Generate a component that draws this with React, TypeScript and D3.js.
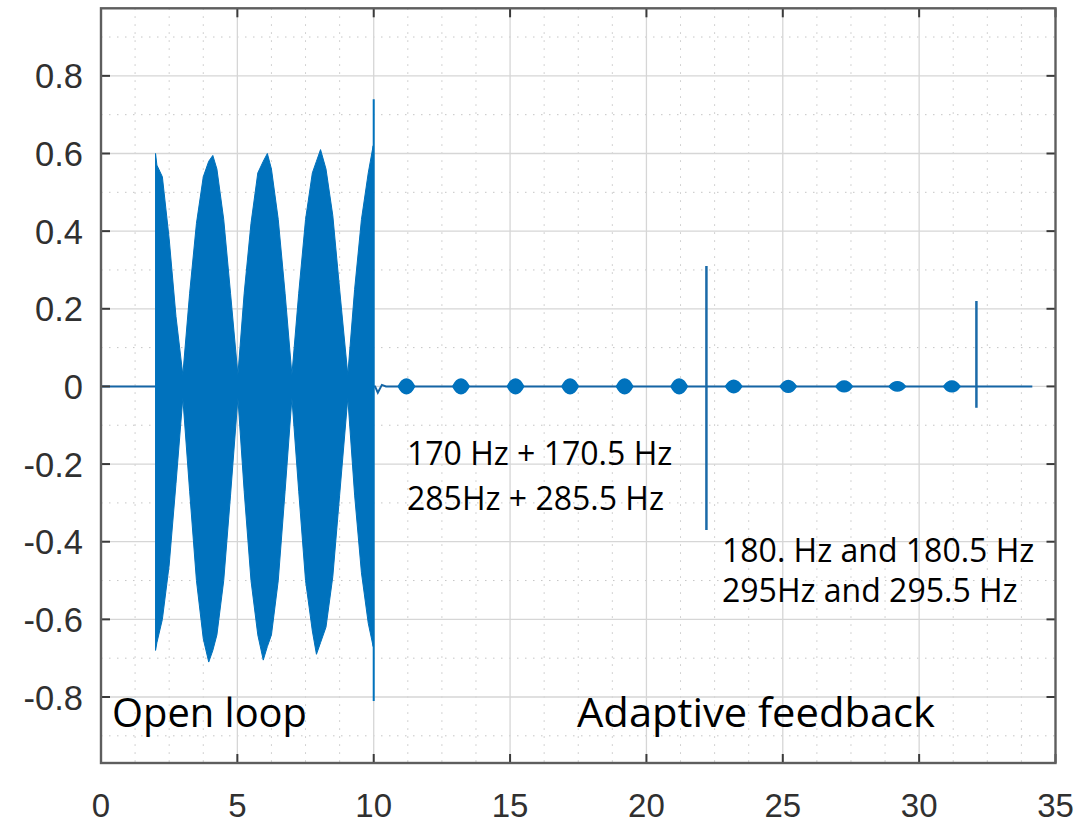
import React from "react";
import * as d3 from "d3";

// ---------- data ----------
const xTicks = [0, 5, 10, 15, 20, 25, 30, 35];
const yTicks = [-0.8, -0.6, -0.4, -0.2, 0, 0.2, 0.4, 0.6, 0.8];
const xTickLabels = ["0", "5", "10", "15", "20", "25", "30", "35"];
const yTickLabels = ["-0.8", "-0.6", "-0.4", "-0.2", "0", "0.2", "0.4", "0.6", "0.8"];
const xMinor = [1.25, 2.5, 3.75, 6.25, 7.5, 8.75, 11.25, 12.5, 13.75, 16.25, 17.5, 18.75, 21.25, 22.5, 23.75, 26.25, 27.5, 28.75, 31.25, 32.5, 33.75];
const yMinor = [-0.9, -0.7, -0.5, -0.3, -0.1, 0.1, 0.3, 0.5, 0.7, 0.9];

// open-loop beating burst (envelope of the dense oscillation)
const burstTime = [2.0, 2.05, 2.25, 2.5, 2.75, 3.0, 3.25, 3.5, 3.75, 3.95, 4.1, 4.25, 4.5, 4.75, 5.02, 5.25, 5.5, 5.75, 5.95, 6.1, 6.25, 6.5, 6.75, 7.0, 7.25, 7.5, 7.75, 7.9, 8.05, 8.25, 8.5, 8.75, 9.05, 9.3, 9.55, 9.8, 9.98];
const burstUpper = [0.6, 0.57, 0.54, 0.38, 0.18, 0.03, 0.24, 0.42, 0.54, 0.58, 0.595, 0.56, 0.43, 0.24, 0.03, 0.24, 0.42, 0.55, 0.58, 0.6, 0.56, 0.43, 0.24, 0.03, 0.24, 0.43, 0.55, 0.58, 0.61, 0.56, 0.44, 0.25, 0.03, 0.25, 0.43, 0.55, 0.62];
const burstLower = [-0.68, -0.66, -0.6, -0.46, -0.25, -0.03, -0.27, -0.5, -0.65, -0.71, -0.68, -0.64, -0.5, -0.28, -0.03, -0.27, -0.5, -0.64, -0.705, -0.67, -0.64, -0.5, -0.27, -0.03, -0.27, -0.5, -0.63, -0.69, -0.66, -0.62, -0.49, -0.28, -0.03, -0.28, -0.48, -0.61, -0.67];

// baseline trace
const traceTime = [0, 10.05, 10.15, 10.3, 10.45, 34.15];
const traceValue = [0, 0, -0.016, 0.004, 0, 0];

// adaptive-feedback residual blips
const blipTime = [11.2, 13.2, 15.2, 17.2, 19.2, 21.2, 23.2, 25.2, 27.25, 29.2, 31.2];
const blipAmp = [0.019, 0.019, 0.019, 0.019, 0.019, 0.019, 0.016, 0.015, 0.014, 0.012, 0.014];

// spikes
const spikeTime = [10.0, 22.2, 32.1];
const spikeTop = [0.74, 0.31, 0.22];
const spikeBottom = [-0.81, -0.37, -0.055];

const annotations = [
  { text: "Open loop", x: 112, y: 727, size: 40.5, len: 195 },
  { text: "Adaptive feedback", x: 577, y: 727, size: 40.5, len: 358 },
  { text: "170 Hz + 170.5 Hz", x: 407, y: 465, size: 32, len: 0 },
  { text: "285Hz + 285.5 Hz", x: 407, y: 510, size: 32, len: 0 },
  { text: "180. Hz and 180.5 Hz", x: 722, y: 562, size: 32, len: 0 },
  { text: "295Hz and 295.5 Hz", x: 722, y: 602, size: 32, len: 0 },
];

const W = 1081;
const H = 823;
const L = 101, R = 1055.5, T = 8.3, B = 763;
const BLUE = "#0072BD";

export default function App() {
  const x = d3.scaleLinear().domain([0, 35]).range([L, R]);
  const y = d3.scaleLinear().domain([-0.97, 0.974]).range([B, T]);

  const burstIdx = d3.range(burstTime.length);
  const burstArea = d3
    .area<number>()
    .x((i) => x(burstTime[i]))
    .y0((i) => y(burstLower[i]))
    .y1((i) => y(burstUpper[i]))(burstIdx) as string;

  const traceIdx = d3.range(traceTime.length);
  const traceLine = d3
    .line<number>()
    .x((i) => x(traceTime[i]))
    .y((i) => y(traceValue[i]))(traceIdx) as string;

  const blipShape = [-0.3, -0.16, 0, 0.16, 0.3];
  const blipFactor = [0, 0.75, 1, 0.75, 0];
  const blipPaths = blipTime.map((c, k) =>
    d3
      .area<number>()
      .x((j) => x(c + blipShape[j]))
      .y0((j) => y(-blipAmp[k] * blipFactor[j]))
      .y1((j) => y(blipAmp[k] * blipFactor[j]))
      .curve(d3.curveCatmullRom)(d3.range(blipShape.length)) as string
  );

  const tickColor = "#3a3a3a";
  const labelColor = "#303030";
  const tickLen = 9;

  return (
    <svg
      width={W}
      height={H}
      style={{ position: "absolute", left: 0, top: 0, background: "#fff" }}
    >
      <rect x={0} y={0} width={W} height={H} fill="#fff" />
      {/* minor grid */}
      <g stroke="#b8b8b8" strokeWidth={1} strokeDasharray="1.5,6.5" opacity={0.8}>
        {xMinor.map((v) => (
          <line key={"xm" + v} x1={x(v)} x2={x(v)} y1={T} y2={B} />
        ))}
        {yMinor.map((v) => (
          <line key={"ym" + v} x1={L} x2={R} y1={y(v)} y2={y(v)} />
        ))}
      </g>
      {/* major grid */}
      <g stroke="#d6d6d6" strokeWidth={1.3}>
        {xTicks.slice(1, -1).map((v) => (
          <line key={"xg" + v} x1={x(v)} x2={x(v)} y1={T} y2={B} />
        ))}
        {yTicks.map((v) => (
          <line key={"yg" + v} x1={L} x2={R} y1={y(v)} y2={y(v)} />
        ))}
      </g>

      {/* signal */}
      <path d={traceLine} fill="none" stroke="#1565a5" strokeWidth={2} />
      <path d={burstArea} fill={BLUE} stroke={BLUE} strokeWidth={1} />
      {blipPaths.map((d, k) => (
        <path key={"b" + k} d={d} fill={BLUE} stroke={BLUE} strokeWidth={1.5} />
      ))}
      {spikeTime.map((t, k) => (
        <line
          key={"s" + k}
          x1={x(t)}
          x2={x(t)}
          y1={y(spikeTop[k])}
          y2={y(spikeBottom[k])}
          stroke={k === 0 ? BLUE : "#1a6aa8"}
          strokeWidth={k === 0 ? 2 : 2.5}
        />
      ))}

      {/* ticks */}
      <g stroke={tickColor} strokeWidth={2}>
        {xTicks.map((v) => (
          <g key={"xt" + v}>
            <line x1={x(v)} x2={x(v)} y1={B} y2={B - tickLen} />
            <line x1={x(v)} x2={x(v)} y1={T} y2={T + tickLen} />
          </g>
        ))}
        {yTicks.map((v) => (
          <g key={"yt" + v}>
            <line x1={L} x2={L + tickLen} y1={y(v)} y2={y(v)} />
            <line x1={R} x2={R - tickLen} y1={y(v)} y2={y(v)} />
          </g>
        ))}
      </g>
      {/* box */}
      <rect x={L} y={T} width={R - L} height={B - T} fill="none" stroke="#5e5e5e" strokeWidth={2.4} />

      {/* tick labels */}
      <g fill={labelColor} fontFamily="'Liberation Sans', Arial, sans-serif">
        {xTicks.map((v, i) => (
          <text key={"xl" + v} x={x(v)} y={817} textAnchor="middle" fontSize={33}>
            {xTickLabels[i]}
          </text>
        ))}
        {yTicks.map((v, i) => (
          <text key={"yl" + v} x={83} y={y(v) + 12.5} textAnchor="end" fontSize={34.5}>
            {yTickLabels[i]}
          </text>
        ))}
      </g>

      {/* annotations */}
      <g fill="#000" fontFamily="'Open Sans', sans-serif">
        {annotations.map((a) => (
          <text
            key={a.text}
            x={a.x}
            y={a.y}
            fontSize={a.size}
            {...(a.len ? { textLength: a.len, lengthAdjust: "spacingAndGlyphs" } : {})}
          >
            {a.text}
          </text>
        ))}
      </g>
    </svg>
  );
}
